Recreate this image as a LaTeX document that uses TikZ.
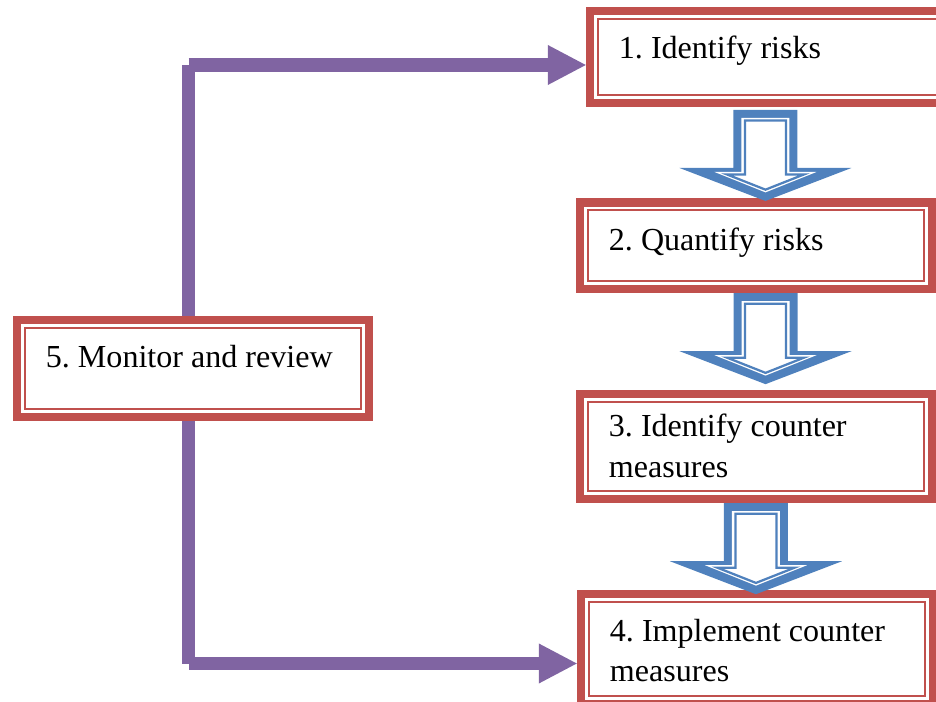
\documentclass[tikz,border=0pt]{standalone}
\usepackage{fontspec}
\setmainfont{Liberation Serif}
\usetikzlibrary{arrows.meta}

\definecolor{boxred}{HTML}{C0504D}
\definecolor{flowblue}{HTML}{4F81BD}
\definecolor{loopviolet}{HTML}{8064A2}

\tikzset{
  stagebox/.style={draw=boxred, line width=6pt, fill=white, anchor=north west,
    inner xsep=20.6pt, inner ysep=14.2pt, text width=209.1pt, align=flush left,
    text height=19.9pt, font=\fontsize{22.8pt}{28.5pt}\selectfont\frenchspacing,
    path picture={\draw[boxred, line width=1.4pt]
      ([shift={(5.7pt,5.7pt)}]path picture bounding box.south west) rectangle
      ([shift={(-5.7pt,-5.7pt)}]path picture bounding box.north east);}},
  loopline/.style={draw=loopviolet, line width=9.25pt},
  looptip/.style={-{Triangle[length=27pt, width=28.5pt, line width=0pt]}},
  pics/downarrow/.style={code={
    \fill[flowblue] (-32,0) -- (32,0) -- (32,58) -- (86,58) -- (0,91) -- (-86,58) -- (-32,58) -- cycle;
    \fill[white] (-24,8) -- (24,8) -- (24,62) -- (51,62) -- (0,82.4) -- (-51,62) -- (-24,62) -- cycle;
    \draw[flowblue, line width=1.6pt, fill=white] (-20.5,10.5) -- (20.5,10.5) -- (20.5,64.5) -- (38.5,64.5) -- (0,79.7) -- (-38.5,64.5) -- (-20.5,64.5) -- cycle;
  }}
}

\begin{document}
\begin{tikzpicture}[x=0.025cm, y=-0.025cm]
        \useasboundingbox (0,0) rectangle (936,702);

        % the four steps on the right
        \node[stagebox, text width=214.8pt, text depth=17.1pt] (b1) at (585.75,6.75) {1. Identify risks};
        \node[stagebox, text depth=13.2pt] (b2) at (575.75,198.25) {2. Quantify risks};
        \node[stagebox, text height=16.4pt, text depth=29.9pt] (b3) at (575.75,389.75) {3. Identify counter measures};
        \node[stagebox, text depth=29.9pt] (b4) at (576.75,589.75) {4. Implement counter measures};

        % monitoring step on the left
        \node[stagebox, text depth=20.6pt] (b5) at (12.75,315.75) {5. Monitor and review};

        % block arrows between the steps
        \pic at ([shift={(-3.2pt,-2pt)}]b1.south) {downarrow};
        \pic at ([xshift=6.8pt]b2.south) {downarrow};
        \pic at (b3.south) {downarrow};

        % feedback loop
        \coordinate (c1) at (188.5,65);
        \coordinate (c2) at (188.5,663.5);
        \draw[loopline] (c1 |- b5.north) -- (c1);
        \draw[loopline, looptip] (c1) -- (c1 -| b1.west);
        \draw[loopline] (c2 |- b5.south) -- (c2);
        \draw[loopline, looptip] (c2) -- (c2 -| b4.west);

\end{tikzpicture}
\end{document}
